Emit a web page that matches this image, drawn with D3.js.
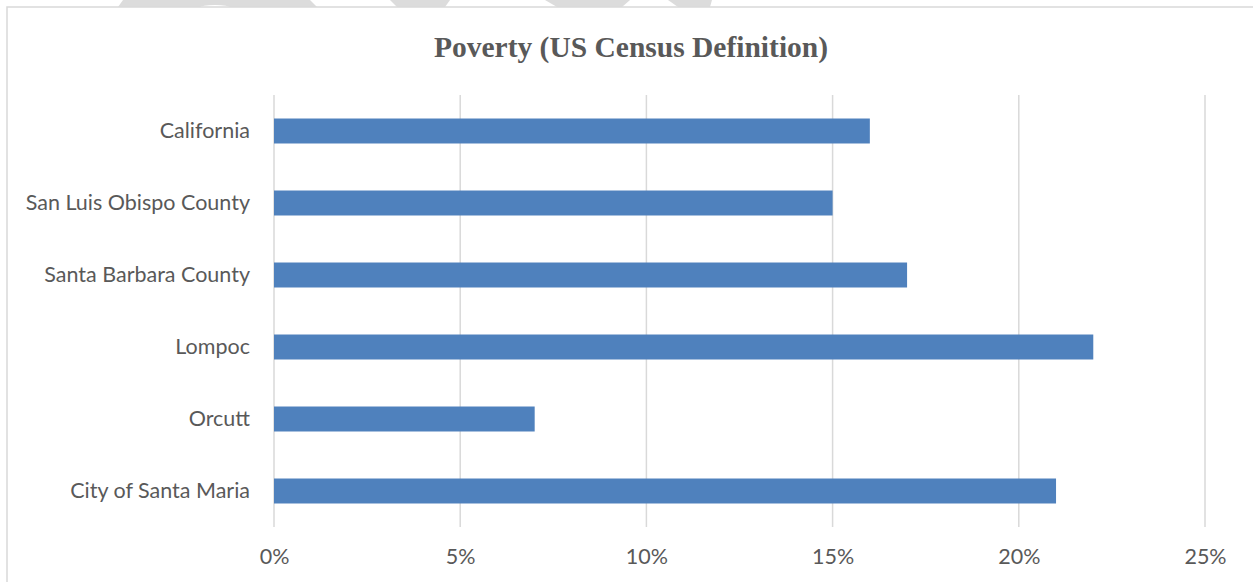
<!DOCTYPE html>
<html>
<head>
<meta charset="utf-8">
<script src="https://cdn.jsdelivr.net/npm/d3@7"></script>
<style>
  html, body { margin: 0; padding: 0; background: #fff; }
  svg { display: block; }
</style>
</head>
<body>
<svg id="chart" width="1253" height="582"></svg>
<script>
// Poverty rate by area (share of population below the US Census poverty line)
const categories = ["California", "San Luis Obispo County", "Santa Barbara County", "Lompoc", "Orcutt", "City of Santa Maria"];
const povertyRate = [0.16, 0.15, 0.17, 0.22, 0.07, 0.21];
const tickValues = [0, 0.05, 0.10, 0.15, 0.20, 0.25];
const title = "Poverty (US Census Definition)";

const W = 1253, H = 582;
const plot = { left: 274, right: 1205, top: 95, bottom: 527 };

const svg = d3.select("#chart");

// faint decorative marks running off the top edge of the page
const deco = [
  [[123,0],[310,0],[317,7],[118,7]],
  [[390,0],[450,0],[445,7],[397,7]],
  [[545,0],[630,0],[622,7],[557,7]],
  [[668,0],[712,0],[710,7],[678,7]]
];
svg.append("g").selectAll("path").data(deco).join("path")
  .attr("d", d => d3.line()(d) + "Z")
  .attr("fill", "#dcdcdc");
svg.append("ellipse").attr("cx", 215).attr("cy", 7.5).attr("rx", 15).attr("ry", 2.5).attr("fill", "#fff");

// chart frame (top and left edges visible)
svg.append("path")
  .attr("d", `M7,${H} L7,7 L${W},7`)
  .attr("fill", "none")
  .attr("stroke", "#d9d9d9")
  .attr("stroke-width", 1.5);

const x = d3.scaleLinear().domain([0, 0.25]).range([plot.left, plot.right]);
const y = d3.scaleBand().domain(categories).range([plot.top, plot.bottom])
  .paddingInner(0.653).paddingOuter(0.3265);

// vertical gridlines
svg.append("g").selectAll("line").data(tickValues).join("line")
  .attr("x1", d => x(d)).attr("x2", d => x(d))
  .attr("y1", plot.top).attr("y2", plot.bottom)
  .attr("stroke", "#d9d9d9").attr("stroke-width", 1.5);

// bars
svg.append("g").selectAll("rect").data(categories).join("rect")
  .attr("x", x(0))
  .attr("y", d => y(d))
  .attr("width", (d, i) => x(povertyRate[i]) - x(0))
  .attr("height", y.bandwidth())
  .attr("fill", "#4f81bd");

// x axis labels
const xAxis = d3.axisBottom(x).tickValues(tickValues).tickFormat(d3.format(".0%")).tickSize(0).tickPadding(0);
const gx = svg.append("g").attr("transform", `translate(0,${plot.bottom})`).call(xAxis);
gx.select(".domain").remove();
gx.selectAll("text")
  .attr("dy", null).attr("y", 37)
  .attr("font-family", "Lato, 'Open Sans', sans-serif")
  .attr("font-size", 21.5)
  .attr("fill", "#595959");

// category labels
const yAxis = d3.axisLeft(y).tickSize(0).tickPadding(0);
const gy = svg.append("g").attr("transform", `translate(${plot.left - 24},0)`).call(yAxis);
gy.select(".domain").remove();
gy.selectAll("text")
  .attr("font-family", "Lato, 'Open Sans', sans-serif")
  .attr("font-size", 21.5)
  .attr("fill", "#595959");

// title
svg.append("text")
  .attr("x", 631).attr("y", 57)
  .attr("text-anchor", "middle")
  .attr("font-family", "'Liberation Serif', 'Times New Roman', serif")
  .attr("font-weight", "bold")
  .attr("font-size", 29.5)
  .attr("fill", "#595959")
  .text(title);
</script>
</body>
</html>
